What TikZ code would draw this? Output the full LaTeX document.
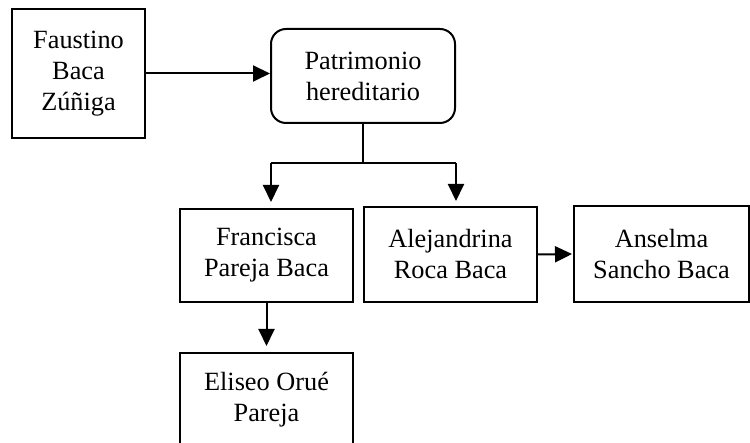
\documentclass[tikz,border=0pt]{standalone}
\usepackage{fontspec}
\setmainfont{Liberation Serif}
\usetikzlibrary{arrows.meta}
\tikzset{
  caja/.style={draw=black, line width=2pt, align=center, inner sep=0pt,
    font=\fontsize{26.3}{31}\selectfont},
  linea/.style={line width=2pt},
  flecha/.style={line width=2pt, -{Triangle[length=17pt,width=16pt]}}
}
\begin{document}
\begin{tikzpicture}[x=1pt,y=-1pt]
	\useasboundingbox (0,0) rectangle (750,443);
	
	% cajas
	\node[caja,minimum width=133pt,minimum height=129pt] (faustino) at (78.5,73.5) {Faustino\\Baca\\Zúñiga};
	\node[caja,rounded corners=15pt,minimum width=184pt,minimum height=94pt] (patrimonio) at (363,76) {Patrimonio\\hereditario};
	\node[caja,minimum width=173pt,minimum height=93pt] (francisca) at (266.5,255.5) {Francisca\\Pareja Baca};
	\node[caja,minimum width=173pt,minimum height=95pt] (alejandrina) at (450.5,254.5) {Alejandrina\\Roca Baca};
	\node[caja,minimum width=175pt,minimum height=96pt] (anselma) at (661.5,254) {Anselma\\Sancho Baca};
	\node[caja,minimum width=173pt,minimum height=93pt] (eliseo) at (266.5,399.5) {Eliseo Orué\\Pareja};
	
	% conectores
	\coordinate (izq) at (271,163);
	\coordinate (der) at (456,163);
	\draw[flecha] (faustino.east) -- (faustino.east -| patrimonio.west);
	\draw[linea] (patrimonio.south) -- (patrimonio.south |- izq);
	\draw[linea] (izq) -- (der);
	\draw[flecha,shorten >=6pt] (izq) -- (izq |- francisca.north);
	\draw[flecha,shorten >=5pt] (der) -- (der |- alejandrina.north);
	\draw[flecha,shorten >=6pt] (francisca.south) -- (eliseo.north);
	\draw[flecha,shorten >=1pt] (alejandrina.east) -- (anselma.west);
	
\end{tikzpicture}
\end{document}
